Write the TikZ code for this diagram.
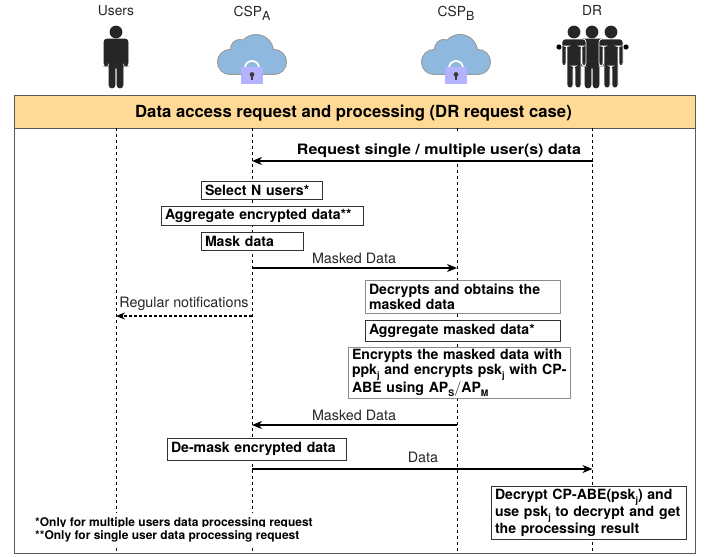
\documentclass[tikz,border=0pt]{standalone}
\usepackage{fontspec}
\setmainfont{TeX Gyre Heros}
\usetikzlibrary{arrows.meta}
\definecolor{hdr}{HTML}{FFD996}
\definecolor{cloudc}{HTML}{8FB8DE}
\definecolor{lockc}{HTML}{B3B3FF}
\definecolor{ink}{HTML}{262626}
\newcommand{\fs}[1]{\fontsize{#1}{#1}\selectfont}
\newcommand{\fsl}[2]{\fontsize{#1}{#2}\selectfont}
\newcommand{\sbs}[1]{\raisebox{-0.28em}{\fontsize{9}{9}\selectfont #1}}
\newcommand{\sba}[1]{\raisebox{-0.3em}{\fontsize{12.5}{12.5}\selectfont #1}}
\newcommand{\personpath}{(-12,66) -- (-12,39) -- (12,39) -- (12,66) -- (8,66) -- (8,46) -- (7,46) -- (7,88) -- (1,88) -- (1,66) -- (-1,66) -- (-1,88) -- (-7,88) -- (-7,46) -- (-8,46) -- (-8,66) -- cycle}
\newcommand{\drawperson}[2]{%
  \begin{scope}[shift={(#1,0)}]
    \draw[#2,line width=0.7pt,fill=ink,rounded corners=3] \personpath;
    \fill[ink] (0,32) circle (6.4);
  \end{scope}}
\newcommand{\cloudshape}[1]{%
  \path[#1] (-22,62) circle (12);
  \path[#1] (-12,49) circle (9);
  \path[#1] (4,52) circle (17);
  \path[#1] (22,62) circle (12);
  \path[#1] (-22,60) rectangle (22,74);}
\newcommand{\drawcloud}[1]{%
  \begin{scope}[shift={(#1,0)}]
    \cloudshape{draw=black!40,line width=2pt,fill=black!40}
    \cloudshape{fill=cloudc}
    \draw[white,line width=1.8pt] (-7,68) arc[start angle=180,end angle=360,radius=7];
    \fill[lockc] (-11,67) rectangle (11,84);
    \fill[ink!90] (0,74.5) circle (2.4);
    \fill[ink!90] (-1,75) rectangle (1,80);
  \end{scope}}
\tikzset{
  frameline/.style={draw=black!65,line width=1pt},
  lifeline/.style={draw=black,line width=0.7pt,dash pattern=on 3pt off 3pt},
  msg/.style={draw=black,line width=1.5pt,-{Stealth[length=10pt,width=8pt,inset=3pt]}},
  msgd/.style={draw=black,line width=1.1pt,dash pattern=on 3pt off 2pt,-{Stealth[length=9pt,width=7pt,inset=3pt]}},
  stepbox/.style={draw=black!80,line width=0.9pt,fill=white,font=\fsl{14.1}{15}\bfseries,align=left,anchor=north west,inner xsep=4pt,inner ysep=0pt,outer sep=0pt},
  lightbox/.style={stepbox,draw=black!45},
  actor/.style={font=\fs{13.8},text=ink,anchor=base},
  msglabel/.style={font=\fs{14.3},text=ink,anchor=base},
  boldlabel/.style={font=\fs{14.3}\bfseries,anchor=base},
  note/.style={font=\fs{12}\bfseries,fill=white,anchor=base west,inner sep=0pt}
}
\begin{document}
\begin{tikzpicture}[x=1pt,y=-1pt]
\useasboundingbox (0,0) rectangle (715,557);
% frame and header
\node[frameline,fill=white,minimum width=681pt,minimum height=458pt,anchor=north west,inner sep=0pt,line width=1.2pt] (frame) at (14,95) {};
\node[frameline,fill=hdr,minimum width=681pt,minimum height=33pt,anchor=north west,inner sep=0pt] (hdr) at (14,95) {};
\node[font=\fs{16.7}\bfseries,anchor=base] (title) at (353.5,117) {Data access request and processing (DR request case)};
% life line ends
\coordinate (u0) at (116,128); \coordinate (u1) at (116,553);
\coordinate (a0) at (252,128); \coordinate (a1) at (252,553);
\coordinate (b0) at (457,128); \coordinate (b1) at (457,553);
\coordinate (d0) at (592.5,128); \coordinate (d1) at (592.5,553);
\draw[lifeline] (u0) -- (u1);
\draw[lifeline] (a0) -- (a1);
\draw[lifeline] (b0) -- (b1);
\draw[lifeline] (d0) -- (d1);
% actors
\node[actor] (lu) at (116,15) {Users};
\node[actor] (la) at (252,16) {CSP\sba{A}};
\node[actor] (lb) at (456,16) {CSP\sba{B}};
\node[actor] (ld) at (592,15) {DR};
\drawperson{116}{ink}
\drawcloud{252}
\drawcloud{456}
\fill[black] (559,47) circle (2.6) (626,47) circle (2.6);
\drawperson{592}{ink}
\drawperson{574}{white}
\drawperson{611}{white}
% messages
\fill[white] (290,134) rectangle (553,160.2);
\coordinate (m1a) at (592.5,161); \coordinate (m1b) at (252,161);
\draw[msg] (m1a) -- (m1b);
\node[boldlabel,xscale=1.12] (m1) at (439,154) {Request single / multiple user(s) data};
\coordinate (m2a) at (252,268); \coordinate (m2b) at (457,268);
\draw[msg] (m2a) -- (m2b);
\node[msglabel] (m2) at (354,263) {Masked Data};
\coordinate (m3a) at (252,316); \coordinate (m3b) at (116,316);
\draw[msgd] (m3a) -- (m3b);
\node[msglabel] (m3) at (184,307) {Regular notifications};
\coordinate (m4a) at (457,425); \coordinate (m4b) at (252,425);
\draw[msg] (m4a) -- (m4b);
\node[msglabel] (m4) at (354,420) {Masked Data};
\coordinate (m5a) at (252,469); \coordinate (m5b) at (592.5,469);
\draw[msg] (m5a) -- (m5b);
\node[msglabel] (m5) at (423,462) {Data};
% step boxes
\node[stepbox,minimum width=121pt,minimum height=18pt,text width=113pt] (s1) at (201,181) {Select N users*};
\node[stepbox,minimum width=202pt,minimum height=19pt,text width=194pt] (s2) at (161,206) {Aggregate encrypted data**};
\node[stepbox,minimum width=102pt,minimum height=18pt,text width=94pt] (s3) at (201,232) {Mask data};
\node[lightbox,minimum width=195pt,minimum height=33pt,text width=187pt] (s4) at (365,280) {Decrypts and obtains the\\masked data};
\node[stepbox,minimum width=195pt,minimum height=21pt,text width=187pt] (s5) at (365,320) {Aggregate masked data*};
\node[lightbox,minimum width=222pt,minimum height=51pt,text width=214pt] (s6) at (348,347) {Encrypts the masked data with\\\mbox{ppk\sbs{j} and encrypts psk\sbs{j} with CP-}\\ABE using AP\sbs{S}$/$AP\sbs{M}};
\node[stepbox,minimum width=179pt,minimum height=22pt,text width=171pt] (s7) at (167,438) {De-mask encrypted data};
\node[stepbox,minimum width=195pt,minimum height=53pt,text width=187pt,font=\fsl{14.1}{17}\bfseries] (s8) at (491,486) {Decrypt CP-ABE(psk\sbs{j}) and\\use psk\sbs{j} to decrypt and get\\the processing result};
% notes
\fill[white] (35,513) rectangle (312,547);
\node[note] (n1) at (35,526) {*Only for multiple users data processing request};
\fill[white] (35,527) rectangle (312,547);
\node[note] (n2) at (35,539.5) {**Only for single user data processing request};
\end{tikzpicture}
\end{document}
